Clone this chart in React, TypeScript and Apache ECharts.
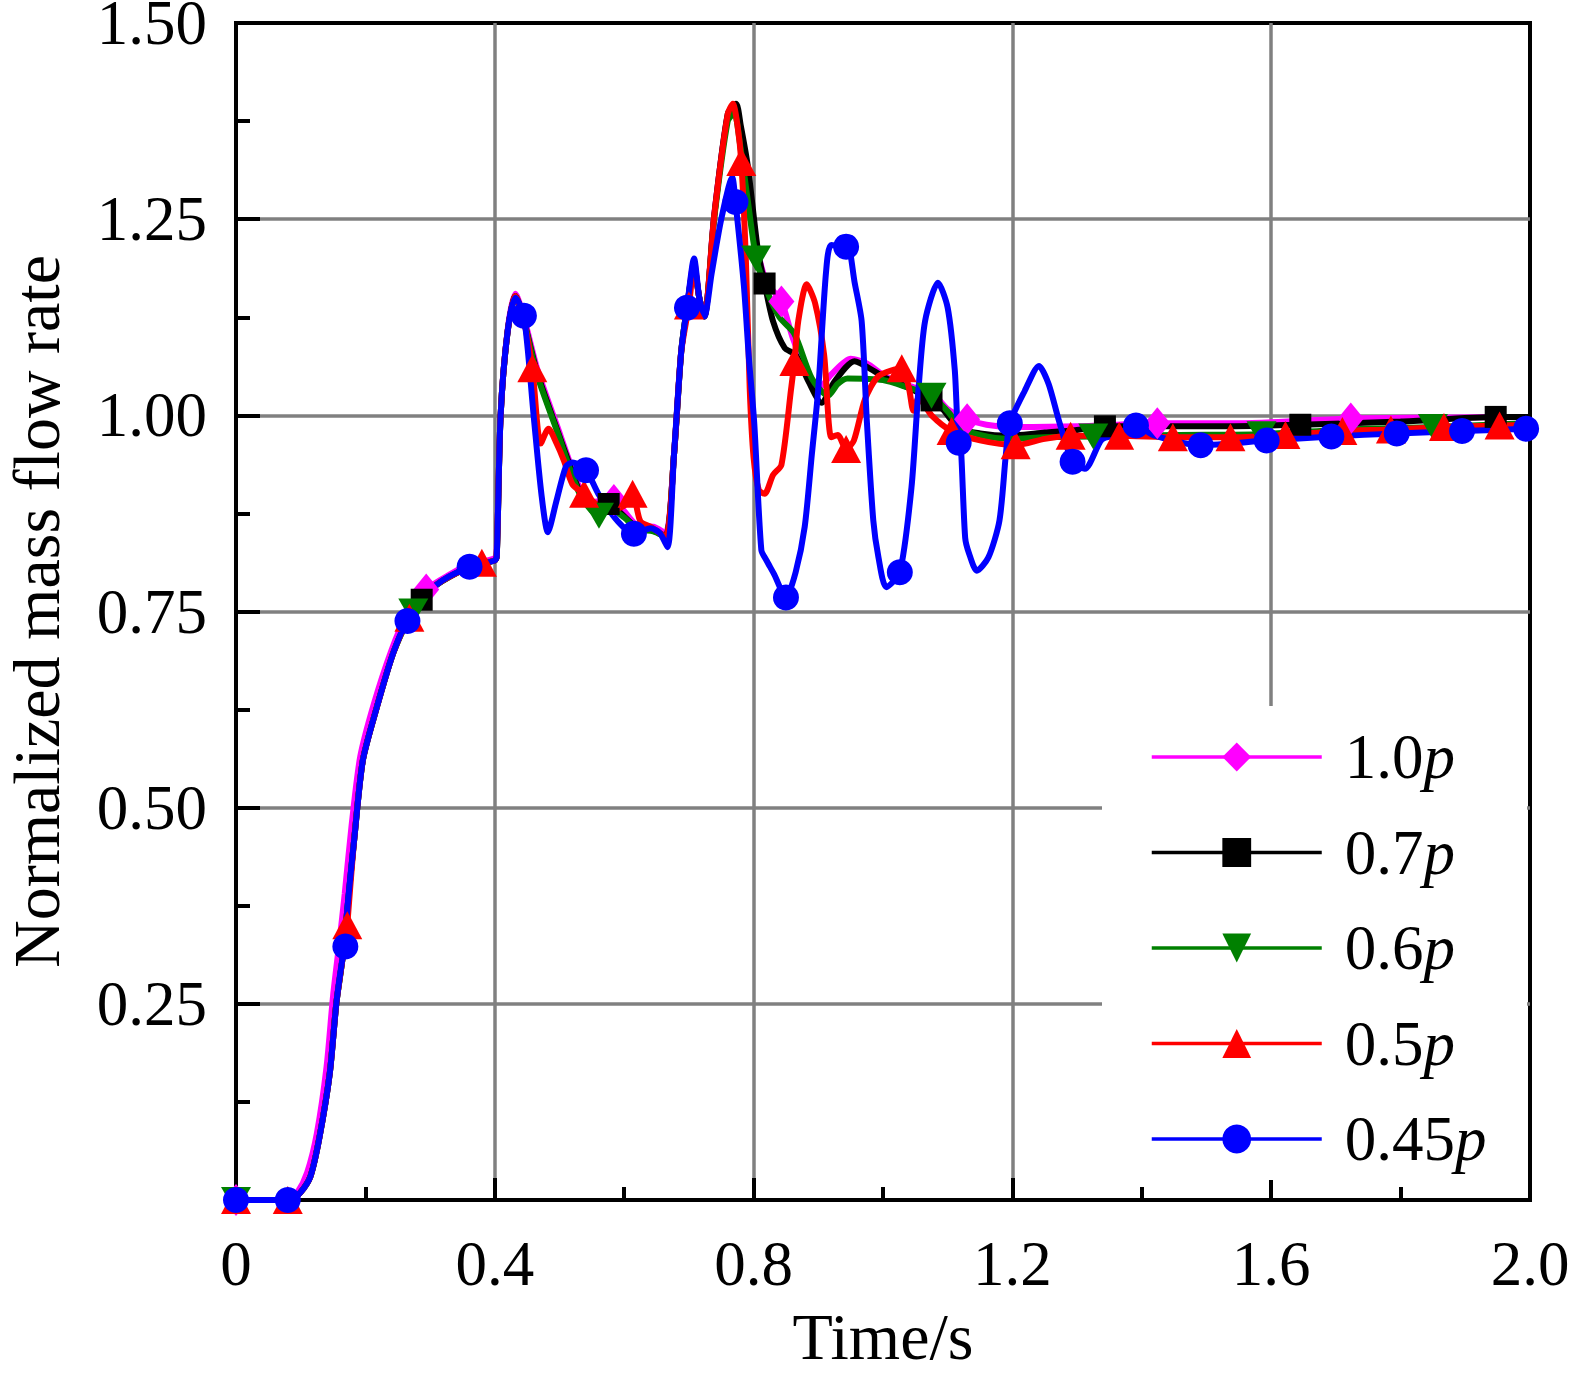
import React, { useEffect, useRef } from "react";
import * as echarts from "echarts";

type P = [number, number];

const FONT = "'Liberation Serif', 'Times New Roman', serif";

const seriesNames = ["1.0p", "0.7p", "0.6p", "0.5p", "0.45p"];
const seriesColors = ["#FF00FF", "#000000", "#008000", "#FF0000", "#0000FF"];
const seriesSymbols = ["diamond", "rect", "triangle", "triangle", "circle"];
const seriesSymbolRotate = [0, 0, 180, 0, 0];
const seriesSymbolSize: (number | number[])[] = [[26, 32], 22, [30, 26], [30, 28], 26];

const xTicks = [0, 0.4, 0.8, 1.2, 1.6, 2.0];
const yTicks = [0.25, 0.5, 0.75, 1.0, 1.25, 1.5];

// 1.0p
const line10: P[] = [
  [0, 0], [0.08, 0], [0.095, 0.01], [0.11, 0.035], [0.125, 0.085], [0.14, 0.17], [0.15, 0.26], [0.16, 0.33],
  [0.168, 0.39], [0.179, 0.48], [0.192, 0.565], [0.213, 0.632], [0.24, 0.7], [0.262, 0.742], [0.294, 0.778],
  [0.33, 0.797], [0.361, 0.81], [0.4, 0.818],
  [0.403, 0.83], [0.409, 1.0], [0.42, 1.11], [0.432, 1.155], [0.445, 1.125], [0.466, 1.058], [0.497, 0.985],
  [0.517, 0.938], [0.533, 0.905], [0.555, 0.89], [0.584, 0.892], [0.6, 0.878], [0.62, 0.86], [0.645, 0.858],
  [0.664, 0.85], [0.677, 0.95], [0.688, 1.08], [0.697, 1.137], [0.708, 1.195], [0.716, 1.15], [0.724, 1.128],
  [0.739, 1.255], [0.76, 1.382], [0.771, 1.392], [0.78, 1.36], [0.79, 1.3], [0.805, 1.215], [0.82, 1.17],
  [0.843, 1.145], [0.86, 1.1], [0.88, 1.06], [0.9, 1.034], [0.92, 1.052], [0.95, 1.072], [0.975, 1.066],
  [1.003, 1.05], [1.04, 1.038], [1.08, 1.025], [1.1, 1.008], [1.13, 0.995], [1.16, 0.988], [1.2, 0.985],
  [1.3, 0.986], [1.424, 0.99], [1.55, 0.99], [1.723, 0.996], [1.85, 0.997], [2.0, 0.998],
];
const marks10: P[] = [
  [0, 0], [0.294, 0.778], [0.584, 0.892], [0.843, 1.145], [1.13, 0.995], [1.424, 0.99], [1.723, 0.996],
];

// 0.7p
const line07: P[] = [
  [0, 0], [0.085, 0], [0.1, 0.01], [0.115, 0.03], [0.129, 0.08], [0.145, 0.162], [0.155, 0.25], [0.165, 0.31],
  [0.172, 0.37], [0.183, 0.462], [0.196, 0.56], [0.217, 0.626], [0.243, 0.697], [0.265, 0.738], [0.287, 0.765],
  [0.31, 0.784], [0.361, 0.807], [0.4, 0.815],
  [0.403, 0.82], [0.409, 1.0], [0.42, 1.108], [0.432, 1.152], [0.445, 1.12], [0.466, 1.053], [0.497, 0.98],
  [0.517, 0.934], [0.533, 0.9], [0.555, 0.883], [0.576, 0.887], [0.595, 0.875], [0.62, 0.857], [0.645, 0.853],
  [0.664, 0.846], [0.677, 0.95], [0.688, 1.08], [0.697, 1.137], [0.708, 1.19], [0.716, 1.15], [0.724, 1.126],
  [0.739, 1.253], [0.76, 1.384], [0.773, 1.397], [0.78, 1.37], [0.791, 1.318], [0.807, 1.208], [0.817, 1.168],
  [0.83, 1.12], [0.848, 1.086], [0.865, 1.077], [0.885, 1.043], [0.905, 1.016], [0.925, 1.043], [0.956, 1.069],
  [0.987, 1.056], [1.003, 1.048], [1.04, 1.035], [1.075, 1.019], [1.09, 1.01], [1.117, 0.984], [1.15, 0.977],
  [1.194, 0.974], [1.25, 0.978], [1.297, 0.981], [1.343, 0.986], [1.5, 0.986], [1.645, 0.988], [1.8, 0.992],
  [1.947, 0.998], [2.0, 0.998],
];
const marks07: P[] = [
  [0, 0], [0.287, 0.765], [0.576, 0.887], [0.817, 1.168], [1.075, 1.019], [1.343, 0.986], [1.645, 0.988], [1.947, 0.998],
];

// 0.6p
const line06: P[] = [
  [0, 0], [0.085, 0], [0.1, 0.01], [0.115, 0.03], [0.129, 0.08], [0.145, 0.162], [0.155, 0.25], [0.165, 0.31],
  [0.172, 0.37], [0.183, 0.462], [0.196, 0.56], [0.217, 0.626], [0.243, 0.697], [0.265, 0.738], [0.274, 0.75],
  [0.31, 0.784], [0.361, 0.807], [0.4, 0.815],
  [0.403, 0.82], [0.409, 1.0], [0.42, 1.108], [0.432, 1.152], [0.445, 1.12], [0.466, 1.05], [0.497, 0.978],
  [0.517, 0.93], [0.533, 0.897], [0.561, 0.872], [0.58, 0.88], [0.6, 0.87], [0.62, 0.855], [0.645, 0.852],
  [0.664, 0.845], [0.677, 0.95], [0.688, 1.08], [0.697, 1.137], [0.708, 1.19], [0.716, 1.15], [0.724, 1.126],
  [0.739, 1.25], [0.76, 1.375], [0.77, 1.385], [0.78, 1.34], [0.79, 1.28], [0.804, 1.2], [0.82, 1.16],
  [0.84, 1.125], [0.863, 1.104], [0.89, 1.047], [0.915, 1.025], [0.93, 1.04], [0.945, 1.047], [1.0, 1.045],
  [1.04, 1.035], [1.075, 1.025], [1.1, 1.005], [1.12, 0.985], [1.15, 0.975], [1.194, 0.97], [1.25, 0.972],
  [1.325, 0.973], [1.45, 0.975], [1.585, 0.976], [1.72, 0.982], [1.85, 0.985], [2.0, 0.99],
];
const marks06: P[] = [
  [0, 0], [0.274, 0.75], [0.561, 0.872], [0.804, 1.2], [1.075, 1.025], [1.325, 0.973], [1.585, 0.976], [1.85, 0.985],
];

// 0.5p
const line05: P[] = [
  [0, 0], [0.085, 0], [0.1, 0.01], [0.115, 0.03], [0.129, 0.08], [0.145, 0.162], [0.155, 0.25], [0.165, 0.31],
  [0.172, 0.37], [0.183, 0.462], [0.196, 0.56], [0.217, 0.626], [0.243, 0.697], [0.268, 0.742], [0.31, 0.784],
  [0.361, 0.807], [0.4, 0.815],
  [0.403, 0.82], [0.409, 1.0], [0.42, 1.108], [0.432, 1.152], [0.445, 1.12], [0.458, 1.06], [0.471, 0.964],
  [0.483, 0.983], [0.495, 0.965], [0.507, 0.942], [0.52, 0.912], [0.538, 0.9], [0.56, 0.885], [0.58, 0.879],
  [0.6, 0.885], [0.613, 0.9], [0.625, 0.865], [0.643, 0.857], [0.664, 0.845], [0.677, 0.95], [0.688, 1.08],
  [0.7, 1.14], [0.708, 1.19], [0.716, 1.15], [0.724, 1.126], [0.739, 1.253], [0.76, 1.384], [0.768, 1.397],
  [0.775, 1.37], [0.781, 1.323], [0.788, 1.2], [0.794, 1.034], [0.8, 0.946], [0.808, 0.905], [0.817, 0.9],
  [0.83, 0.924], [0.843, 0.937], [0.858, 1.034], [0.863, 1.068], [0.869, 1.12], [0.882, 1.167], [0.895, 1.143],
  [0.909, 1.077], [0.92, 0.972], [0.93, 0.975], [0.943, 0.957], [0.955, 0.968], [0.972, 1.02], [0.993, 1.05],
  [1.029, 1.06], [1.04, 1.035], [1.047, 1.006], [1.055, 1.022], [1.075, 1.0], [1.106, 0.98], [1.15, 0.968],
  [1.205, 0.962], [1.25, 0.97], [1.29, 0.974], [1.365, 0.974], [1.448, 0.972], [1.537, 0.972], [1.622, 0.975],
  [1.71, 0.98], [1.785, 0.982], [1.867, 0.985], [1.953, 0.987], [2.0, 0.988],
];
const marks05: P[] = [
  [0, 0], [0.08, 0], [0.172, 0.35], [0.268, 0.742], [0.38, 0.812], [0.458, 1.06], [0.538, 0.9], [0.613, 0.9],
  [0.7, 1.14], [0.781, 1.323], [0.863, 1.068], [0.943, 0.957], [1.029, 1.06], [1.106, 0.98], [1.205, 0.962],
  [1.29, 0.974], [1.365, 0.974], [1.448, 0.972], [1.537, 0.972], [1.622, 0.975], [1.71, 0.98], [1.785, 0.982],
  [1.867, 0.985], [1.953, 0.987],
];

// 0.45p
const line045: P[] = [
  [0, 0], [0.085, 0], [0.1, 0.01], [0.115, 0.03], [0.129, 0.08], [0.145, 0.162], [0.155, 0.25], [0.165, 0.31],
  [0.172, 0.37], [0.183, 0.462], [0.196, 0.56], [0.217, 0.626], [0.243, 0.697], [0.265, 0.738], [0.31, 0.784],
  [0.361, 0.807], [0.4, 0.815],
  [0.403, 0.82], [0.409, 1.0], [0.42, 1.108], [0.432, 1.15], [0.445, 1.127], [0.46, 1.0], [0.472, 0.9],
  [0.482, 0.851], [0.495, 0.89], [0.51, 0.935], [0.52, 0.94], [0.541, 0.93], [0.56, 0.9], [0.59, 0.865],
  [0.615, 0.849], [0.641, 0.856], [0.655, 0.85], [0.667, 0.832], [0.677, 0.95], [0.688, 1.08], [0.697, 1.137],
  [0.708, 1.2], [0.716, 1.15], [0.724, 1.126], [0.735, 1.18], [0.75, 1.25], [0.767, 1.303], [0.772, 1.272],
  [0.785, 1.165], [0.793, 1.07], [0.801, 0.99], [0.812, 0.828], [0.82, 0.815], [0.832, 0.797], [0.85, 0.768],
  [0.865, 0.8], [0.879, 0.858], [0.89, 0.95], [0.9, 1.034], [0.912, 1.183], [0.92, 1.217], [0.946, 1.217],
  [0.956, 1.17], [0.967, 1.12], [0.975, 0.993], [0.985, 0.866], [0.993, 0.819], [1.005, 0.781], [1.026, 0.8],
  [1.044, 0.908], [1.055, 1.035], [1.065, 1.12], [1.085, 1.169], [1.1, 1.137], [1.111, 1.057], [1.119, 0.968],
  [1.127, 0.844], [1.133, 0.824], [1.145, 0.802], [1.163, 0.819], [1.18, 0.866], [1.19, 0.951], [1.196, 0.99],
  [1.219, 1.031], [1.241, 1.063], [1.256, 1.04], [1.272, 0.993], [1.293, 0.941], [1.312, 0.932], [1.338, 0.969],
  [1.36, 0.975], [1.391, 0.987], [1.42, 0.974], [1.491, 0.962], [1.593, 0.968], [1.693, 0.973], [1.794, 0.977],
  [1.895, 0.98], [2.0, 0.984],
];
const marks045: P[] = [
  [0, 0], [0.08, 0], [0.169, 0.323], [0.265, 0.738], [0.361, 0.807], [0.445, 1.127], [0.541, 0.93], [0.615, 0.849],
  [0.697, 1.137], [0.772, 1.272], [0.85, 0.768], [0.943, 1.215], [1.026, 0.8], [1.117, 0.965], [1.196, 0.99],
  [1.293, 0.941], [1.391, 0.987], [1.491, 0.962], [1.593, 0.968], [1.693, 0.973], [1.794, 0.977], [1.895, 0.98],
  [1.994, 0.983],
];

const seriesLines: P[][] = [line10, line07, line06, line05, line045];
const seriesMarks: P[][] = [marks10, marks07, marks06, marks05, marks045];

function mergeData(line: P[], marks: P[]) {
  const items: { value: P; mark: boolean }[] = [];
  line.forEach((p) => items.push({ value: p, mark: false }));
  marks.forEach((p) => items.push({ value: p, mark: true }));
  items.sort((a, b) => a.value[0] - b.value[0] || (a.mark ? 1 : -1));
  return items.map((it) => (it.mark ? { value: it.value } : { value: it.value, symbol: "none" }));
}

export default function App() {
  const ref = useRef<HTMLDivElement>(null);
  useEffect(() => {
    if (!ref.current) return;
    const chart = echarts.init(ref.current, undefined, { renderer: "svg" });
    const axisLabelStyle = { fontFamily: FONT, fontSize: 63, color: "#000", lineHeight: 40 };
    const option: any = {
      animation: false,
      backgroundColor: "#fff",
      grid: {
        left: 236,
        top: 23,
        right: 43,
        bottom: 174,
        containLabel: false,
        outerBoundsMode: "none",
        show: true,
        borderColor: "#000",
        borderWidth: 4,
        backgroundColor: "transparent",
      },
      legend: {
        orient: "vertical",
        left: 1150,
        top: 722,
        padding: 0,
        itemWidth: 170,
        itemHeight: 36,
        itemGap: 25.5,
        data: seriesNames,
        lineStyle: { width: 3.5 },
        formatter: (name: string) => name.replace(/p$/, "") + "{i|p}",
        textStyle: {
          fontFamily: FONT,
          fontSize: 63,
          color: "#000",
          lineHeight: 70,
          padding: [0, 0, 0, 18],
          rich: {
            i: { fontFamily: FONT, fontSize: 63, fontStyle: "italic", color: "#000", lineHeight: 70 },
          },
        },
      },
      graphic: [
        {
          type: "rect",
          z: 1,
          silent: true,
          shape: { x: 1102, y: 706, width: 425, height: 474 },
          style: { fill: "#fff" },
        },
      ],
      xAxis: {
        type: "value",
        min: xTicks[0],
        max: xTicks[xTicks.length - 1],
        interval: 0.4,
        name: "Time/s",
        nameLocation: "middle",
        nameGap: 112,
        nameTextStyle: { fontFamily: FONT, fontSize: 66, color: "#000", lineHeight: 48 },
        axisLine: { show: true, onZero: false, lineStyle: { color: "#000", width: 4 } },
        axisTick: { show: true, inside: true, length: 22, lineStyle: { color: "#000", width: 4 } },
        minorTick: { show: true, splitNumber: 2, length: 13, lineStyle: { color: "#000", width: 4 } },
        splitLine: { show: true, showMinLine: false, showMaxLine: false, lineStyle: { color: "#808080", width: 3.5 } },
        axisLabel: {
          ...axisLabelStyle,
          margin: 44,
          formatter: (v: number) => (v === 0 ? "0" : v.toFixed(1)),
        },
      },
      yAxis: {
        type: "value",
        min: 0,
        max: yTicks[yTicks.length - 1],
        interval: 0.25,
        name: "Normalized mass flow rate",
        nameLocation: "middle",
        nameGap: 178,
        nameTextStyle: { fontFamily: FONT, fontSize: 66, color: "#000", lineHeight: 44 },
        axisLine: { show: true, onZero: false, lineStyle: { color: "#000", width: 4 } },
        axisTick: { show: true, inside: true, length: 24, lineStyle: { color: "#000", width: 4 } },
        minorTick: { show: true, splitNumber: 2, length: 14, lineStyle: { color: "#000", width: 4 } },
        splitLine: { show: true, showMinLine: false, showMaxLine: false, lineStyle: { color: "#808080", width: 3.5 } },
        axisLabel: {
          ...axisLabelStyle,
          margin: 29,
          formatter: (v: number) => (v === 0 ? "" : v.toFixed(2)),
        },
      },
      series: seriesNames.map((name, i) => ({
        name,
        type: "line",
        smooth: 0.25,
        symbol: seriesSymbols[i],
        symbolRotate: seriesSymbolRotate[i],
        symbolSize: seriesSymbolSize[i],
        showSymbol: true,
        showAllSymbol: true,
        clip: true,
        emphasis: { disabled: true },
        color: seriesColors[i],
        lineStyle: { color: seriesColors[i], width: 6, type: "solid" },
        itemStyle: { color: seriesColors[i] },
        data: mergeData(seriesLines[i], seriesMarks[i]),
      })),
    };
    chart.setOption(option);
    return () => chart.dispose();
  }, []);
  return (
    <div
      ref={ref}
      style={{ position: "absolute", left: 0, top: 0, width: 1573, height: 1374, background: "#fff" }}
    />
  );
}
